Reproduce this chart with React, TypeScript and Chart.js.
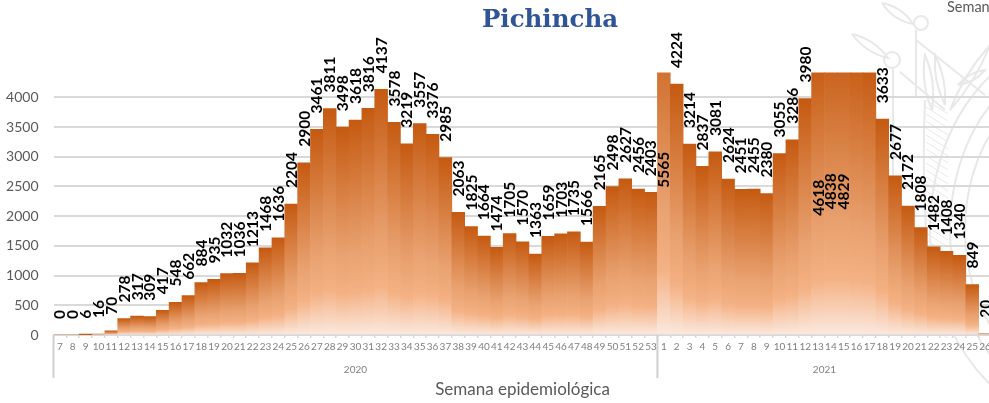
import React, { useEffect, useRef } from "react";
import { Chart, registerables } from "chart.js";

Chart.register(...registerables);

const weeks2020 = [7,8,9,10,11,12,13,14,15,16,17,18,19,20,21,22,23,24,25,26,27,28,29,30,31,32,33,34,35,36,37,38,39,40,41,42,43,44,45,46,47,48,49,50,51,52,53];
const weeks2021 = [1,2,3,4,5,6,7,8,9,10,11,12,13,14,15,16,17,18,19,20,21,22,23,24,25,26];
const values2020 = [0,0,6,16,70,278,317,309,417,548,662,884,935,1032,1036,1213,1468,1636,2204,2900,3461,3811,3498,3618,3816,4137,3578,3219,3557,3376,2985,2063,1825,1664,1474,1705,1570,1363,1659,1703,1735,1566,2165,2498,2627,2456,2403];
const values2021 = [5565,4224,3214,2837,3081,2624,2451,2455,2380,3055,3286,3980,4618,4838,4829,4650,4480,3633,2677,2172,1808,1482,1408,1340,849,20];
const unlabeledWeeks2021 = [16, 17];
const yTicks = [0,500,1000,1500,2000,2500,3000,3500,4000];
const years = ["2020", "2021"];

const categories = [...weeks2020, ...weeks2021].map(String);
const allValues = [...values2020, ...values2021];
const AXIS_MAX = 4420;
const GRID = "#D9D9D9";

function stroke(ctx: CanvasRenderingContext2D, fn: () => void) {
  ctx.beginPath();
  fn();
  ctx.stroke();
}

const leaf = (ctx: CanvasRenderingContext2D, x0: number, y0: number, x1: number, y1: number, w: number) => {
  const mx = (x0 + x1) / 2, my = (y0 + y1) / 2;
  const dx = y1 - y0, dy = x0 - x1;
  const l = Math.hypot(dx, dy) || 1;
  stroke(ctx, () => {
    ctx.moveTo(x0, y0);
    ctx.quadraticCurveTo(mx + (dx / l) * w, my + (dy / l) * w, x1, y1);
    ctx.quadraticCurveTo(mx - (dx / l) * w, my - (dy / l) * w, x0, y0);
  });
};

const backdrop = {
  id: "backdrop",
  beforeDraw(chart: any) {
    // The title is centred on the whole canvas, not on the plot
    if (chart.titleBlock) {
      chart.titleBlock.left = 0;
      chart.titleBlock.right = chart.width;
    }
    const ctx: CanvasRenderingContext2D = chart.ctx;
    ctx.save();
    ctx.strokeStyle = "#E8E8E8";
    ctx.lineWidth = 2;
    // crest sketch behind the plot
    leaf(ctx, 882, 3, 913, 24, 8);
    leaf(ctx, 852, 34, 888, 58, 8);
    stroke(ctx, () => { ctx.arc(921, 23, 7, 0, Math.PI * 2); });
    stroke(ctx, () => { ctx.arc(892, 60, 8, 0, Math.PI * 2); });
    stroke(ctx, () => { ctx.moveTo(916, 30); ctx.lineTo(916, 97); });
    stroke(ctx, () => { ctx.moveTo(893, 68); ctx.lineTo(893, 330); });
    stroke(ctx, () => { ctx.moveTo(900, 72); ctx.lineTo(945, 110); });
    stroke(ctx, () => { ctx.moveTo(916, 40); ctx.lineTo(985, 95); });
    leaf(ctx, 945, 105, 935, 55, 7);
    leaf(ctx, 950, 110, 990, 45, 7);
    leaf(ctx, 932, 110, 925, 55, 8);
    leaf(ctx, 958, 85, 985, 70, 6);
    // shield curves
    stroke(ctx, () => { ctx.ellipse(1075, 230, 145, 190, 0, Math.PI * 0.62, Math.PI * 1.4); });
    stroke(ctx, () => { ctx.ellipse(1075, 230, 125, 170, 0, Math.PI * 0.62, Math.PI * 1.4); });
    stroke(ctx, () => { ctx.ellipse(1075, 230, 110, 150, 0, Math.PI * 0.62, Math.PI * 1.4); });
    stroke(ctx, () => { ctx.moveTo(925, 100); ctx.quadraticCurveTo(920, 210, 935, 320); });
    ctx.lineWidth = 1;
    for (let y = 100; y < 330; y += 7) {
      stroke(ctx, () => { ctx.moveTo(926, y); ctx.lineTo(948, y + 14); });
    }
    ctx.fillStyle = "#595959";
    ctx.font = "14.5px Lato";
    ctx.textAlign = "left";
    ctx.textBaseline = "middle";
    ctx.fillText("Semana epidemiológica", 947, 7);
    ctx.restore();
  },
};

const annotations = {
  id: "annotations",
  afterDraw(chart: any) {
    const ctx: CanvasRenderingContext2D = chart.ctx;
    const x = chart.scales.x;
    const y = chart.scales.y;
    const meta = chart.getDatasetMeta(0);
    ctx.save();

    // Value labels, rotated
    ctx.fillStyle = "#000";
    ctx.font = "bold 15.5px Lato";
    ctx.textBaseline = "middle";
    meta.data.forEach((bar: any, i: number) => {
      const v = allValues[i];
      if (i >= weeks2020.length && unlabeledWeeks2021.includes(weeks2021[i - weeks2020.length])) return;
      ctx.save();
      if (v > AXIS_MAX) {
        ctx.translate(bar.x + 0.5, y.getPixelForValue(v / 2));
        ctx.rotate(-Math.PI / 2);
        ctx.textAlign = "center";
      } else {
        ctx.translate(bar.x + 0.5, y.getPixelForValue(v) - 16);
        ctx.rotate(-Math.PI / 2);
        ctx.textAlign = "left";
      }
      ctx.fillText(String(v), 0, 0);
      ctx.restore();
    });

    // Year grouping under the week ticks
    const n0 = weeks2020.length;
    const half = (x.getPixelForValue(1) - x.getPixelForValue(0)) / 2;
    const left = x.getPixelForValue(0) - half;
    const split = x.getPixelForValue(n0) - half;
    const right = x.getPixelForValue(categories.length - 1) + half;
    ctx.strokeStyle = "#D0D0D0";
    ctx.lineWidth = 2;
    [left, split].forEach((px) => {
      ctx.beginPath();
      ctx.moveTo(px, y.bottom);
      ctx.lineTo(px, 378);
      ctx.stroke();
    });
    ctx.fillStyle = "#7F7F7F";
    ctx.font = "10px Lato";
    ctx.textAlign = "center";
    ctx.textBaseline = "middle";
    ctx.fillText(years[0], (left + split) / 2, 370);
    ctx.fillText(years[1], (split + right) / 2, 370);
    ctx.restore();
  },
};

export default function App() {
  const ref = useRef<HTMLCanvasElement>(null);

  useEffect(() => {
    document.body.style.margin = "0";
    const chart = new Chart(ref.current!, {
      type: "bar",
      data: {
        labels: categories,
        datasets: [
          {
            data: allValues,
            barPercentage: 1,
            categoryPercentage: 1,
            borderWidth: 0,
            backgroundColor: (c: any) => {
              const s = c.chart.scales.y;
              const v = allValues[c.dataIndex];
              if (!s || v === undefined) return "#C55A11";
              const top = s.getPixelForValue(v);
              const bottom = s.getPixelForValue(0);
              if (!Number.isFinite(top) || !Number.isFinite(bottom)) return "#C55A11";
              const g = c.chart.ctx.createLinearGradient(0, top, 0, Math.max(bottom, top + 1));
              g.addColorStop(0, "#C55A11");
              g.addColorStop(0.6, "#E8A06E");
              g.addColorStop(0.8, "#F4B183");
              g.addColorStop(1, "#FBE9DF");
              return g;
            },
          },
        ],
      },
      options: {
        responsive: false,
        animation: false,
        layout: { padding: { top: 0, right: 108.5, bottom: 0, left: 0 } },
        plugins: {
          legend: { display: false },
          tooltip: { enabled: false },
          title: {
            display: true,
            text: "Pichincha",
            color: "#2F5597",
            font: { family: "DejaVu Serif", size: 24.5, weight: "bold" },
            padding: { top: 6, bottom: 37 },
          },
        },
        scales: {
          x: {
            afterFit: (s: any) => { s.height = 68; },
            grid: { drawOnChartArea: false, drawTicks: true, tickLength: 3, color: GRID, lineWidth: 1.5 },
            border: { color: GRID, width: 2 },
            ticks: {
              autoSkip: false,
              maxRotation: 0,
              minRotation: 0,
              color: "#7F7F7F",
              padding: 3,
              font: { family: "Lato", size: 10 },
            },
            title: {
              display: true,
              text: "Semana epidemiológica",
              color: "#595959",
              font: { family: "Lato", size: 17 },
              padding: { top: 0, bottom: 3 },
            },
          },
          y: {
            min: 0,
            max: AXIS_MAX,
            afterFit: (s: any) => { s.width = 53.5; },
            afterBuildTicks: (s: any) => { s.ticks = yTicks.map((value) => ({ value })); },
            grid: { color: GRID, lineWidth: 2, drawTicks: false },
            border: { display: false },
            ticks: {
              color: "#595959",
              padding: 15,
              font: { family: "Lato", size: 14 },
              callback: (v: any) => String(v),
            },
          },
        },
      },
      plugins: [backdrop, annotations],
    } as any);
    return () => chart.destroy();
  }, []);

  return (
    <div style={{ width: 989, height: 403, overflow: "hidden" }}>
      <canvas ref={ref} width={1100} height={403} style={{ display: "block" }} />
    </div>
  );
}
